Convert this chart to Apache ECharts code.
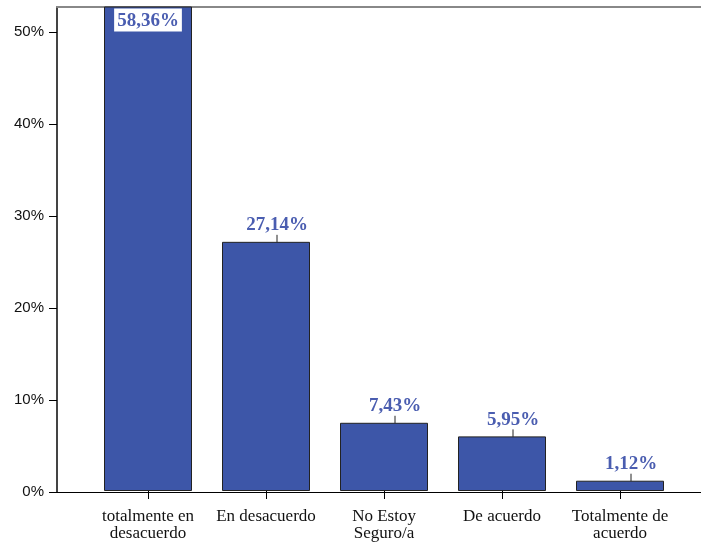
<!DOCTYPE html>
<html>
<head>
<meta charset="utf-8">
<script src="https://cdn.jsdelivr.net/npm/echarts@6/dist/echarts.min.js"></script>
<style>
  html, body { margin: 0; padding: 0; background: #fff; }
  #main { width: 701px; height: 542px; }
</style>
</head>
<body>
<div id="main"></div>
<script>
// datos
var categories = ['totalmente en\ndesacuerdo', 'En desacuerdo', 'No Estoy\nSeguro/a', 'De acuerdo', 'Totalmente de\nacuerdo'];
var percents = [58.36, 27.14, 7.43, 5.95, 1.12];
var yTicks = [0, 10, 20, 30, 40, 50];

var yMax = 52.72; // the top of the plot cuts the first bar
var barColor = '#3d56a8';
var labelColor = '#4a5db0';

var myChart = echarts.init(document.getElementById('main'));

function fmt(v) {
	return v.toFixed(2).replace('.', ',') + '%';
}

var option = {
	animation: false,
	grid: [
		// frame with the axes
		{ left: 57, right: 0, top: 7, bottom: 50 },
		// bars
		{ left: 89, width: 590, top: 7, bottom: 50 }
	],
	xAxis: [
		{
			gridIndex: 0, type: 'category', data: [''],
			axisLine: { lineStyle: { color: '#000', width: 1 } },
			axisTick: { show: false }, axisLabel: { show: false }
		},
		{
			gridIndex: 0, type: 'category', data: [''], position: 'top',
			axisLine: { lineStyle: { color: '#888', width: 2 } },
			axisTick: { show: false }, axisLabel: { show: false }
		},
		{
			gridIndex: 1, type: 'category', data: categories,
			axisLine: { show: false },
			axisTick: { show: true, alignWithLabel: true, length: 8, lineStyle: { color: '#000' } },
			axisLabel: {
				interval: 0, margin: 17, color: '#111',
				fontFamily: 'Liberation Serif', fontSize: 17, lineHeight: 17
			}
		}
	],
	yAxis: [
		{
			gridIndex: 0, type: 'value', min: 0, max: yMax, interval: 10,
			axisLine: { show: true, lineStyle: { color: '#444', width: 2 } },
			axisTick: { show: true, length: 8, lineStyle: { color: '#000' } },
			splitLine: { show: false },
			axisLabel: {
				margin: 13, color: '#111', fontFamily: 'Liberation Sans', fontSize: 15,
				showMaxLabel: false,
				formatter: function (v) { return yTicks.indexOf(v) >= 0 ? v + '%' : ''; }
			}
		},
		{
			gridIndex: 1, type: 'value', min: 0, max: yMax, show: false
		}
	],
	series: [
		{
			type: 'bar',
			xAxisIndex: 2, yAxisIndex: 1,
			barWidth: 88,
			clip: true,
			data: percents.map(function (v, i) {
				if (i === 0) {
					return {
						value: v,
						label: {
							position: 'insideTop', distance: 2,
							backgroundColor: '#fff', padding: [3, 3, 1, 3]
						}
					};
				}
				return v;
			}),
			itemStyle: { color: barColor, borderColor: '#222', borderWidth: 1 },
			label: {
				show: true, position: 'top', distance: 5,
				color: labelColor, fontFamily: 'Liberation Serif', fontWeight: 'bold', fontSize: 19,
				formatter: function (p) { return fmt(p.value); }
			},
			labelLayout: function (p) {
				if (p.dataIndex === 0) return {};
				return { dx: 11, dy: -2 };
			},
			labelLine: { show: true, lineStyle: { color: '#222', width: 1 } }
		}
	]
};

myChart.setOption(option);
</script>
</body>
</html>
